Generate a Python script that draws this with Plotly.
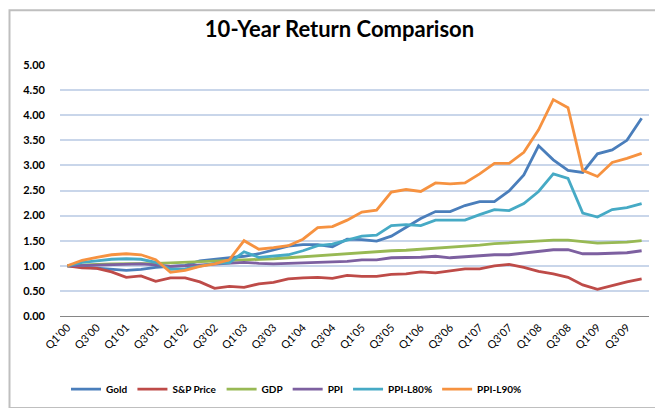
import plotly.graph_objects as go

quarters = [f"Q{q}'{y:02d}" for y in range(0, 10) for q in range(1, 5)]

gold = [1.00, 0.98, 0.96, 0.93, 0.91, 0.93, 0.97, 0.99, 1.01, 1.10,
        1.13, 1.15, 1.19, 1.24, 1.31, 1.39, 1.42, 1.42, 1.38, 1.53,
        1.52, 1.49, 1.59, 1.76, 1.94, 2.08, 2.08, 2.20, 2.28, 2.28,
        2.49, 2.81, 3.39, 3.11, 2.90, 2.86, 3.23, 3.31, 3.50, 3.94]
sp_price = [1.00, 0.96, 0.95, 0.88, 0.77, 0.80, 0.69, 0.76, 0.76, 0.68,
            0.55, 0.59, 0.57, 0.64, 0.67, 0.74, 0.76, 0.77, 0.75, 0.81,
            0.79, 0.79, 0.83, 0.84, 0.88, 0.86, 0.90, 0.94, 0.94, 1.00,
            1.03, 0.97, 0.89, 0.84, 0.77, 0.62, 0.53, 0.61, 0.68, 0.74]
gdp = [1.00, 1.02, 1.03, 1.04, 1.04, 1.05, 1.05, 1.06, 1.07, 1.08,
       1.09, 1.10, 1.11, 1.12, 1.14, 1.16, 1.18, 1.20, 1.23, 1.25,
       1.27, 1.28, 1.30, 1.31, 1.33, 1.35, 1.36, 1.38, 1.41, 1.44,
       1.46, 1.48, 1.50, 1.51, 1.51, 1.48, 1.45, 1.46, 1.47, 1.50]
ppi = [1.00, 1.01, 1.02, 1.03, 1.03, 1.04, 1.02, 0.99, 1.00, 1.02,
       1.03, 1.05, 1.07, 1.05, 1.04, 1.05, 1.06, 1.07, 1.08, 1.09,
       1.12, 1.12, 1.16, 1.16, 1.17, 1.19, 1.16, 1.18, 1.20, 1.22,
       1.22, 1.25, 1.28, 1.32, 1.32, 1.24, 1.24, 1.25, 1.26, 1.30]
ppi_l80 = [1.00, 1.07, 1.10, 1.13, 1.14, 1.13, 1.07, 0.93, 0.94, 1.00,
           1.05, 1.06, 1.28, 1.17, 1.20, 1.22, 1.30, 1.40, 1.43, 1.51,
           1.59, 1.61, 1.80, 1.82, 1.80, 1.91, 1.91, 1.91, 2.02, 2.12,
           2.10, 2.24, 2.48, 2.83, 2.74, 2.05, 1.97, 2.12, 2.16, 2.24]
ppi_l90 = [1.00, 1.11, 1.17, 1.22, 1.24, 1.22, 1.12, 0.87, 0.91, 0.99,
           1.04, 1.12, 1.50, 1.33, 1.36, 1.40, 1.53, 1.76, 1.78, 1.91,
           2.07, 2.11, 2.47, 2.52, 2.48, 2.65, 2.63, 2.65, 2.83, 3.04,
           3.04, 3.26, 3.71, 4.31, 4.15, 2.90, 2.78, 3.06, 3.14, 3.24]

series_names = ["Gold", "S&P Price", "GDP", "PPI", "PPI-L80%", "PPI-L90%"]
series_values = [gold, sp_price, gdp, ppi, ppi_l80, ppi_l90]
colors = ["#4A7EBB", "#BE4B48", "#98B954", "#7D60A0", "#46AAC5", "#F69240"]

y_ticks = [0.0, 0.5, 1.0, 1.5, 2.0, 2.5, 3.0, 3.5, 4.0, 4.5, 5.0]

FONT = "Lato"
# plot area in pixels: x 52..641, y 57..311
PW, PH = 589.0, 254.0

fig = go.Figure()
for name, vals, col in zip(series_names, series_values, colors):
    fig.add_trace(go.Scatter(
        x=quarters, y=vals, name=name, mode="lines",
        line=dict(color=col, width=2.8), hoverinfo="x+y+name",
    ))

fig.update_layout(
    width=663, height=408,
    margin=dict(l=52, r=22, t=57, b=97),
    paper_bgcolor="white", plot_bgcolor="white",
    font=dict(family=FONT, color="#000000"),
    title=dict(text="<b>10-Year Return Comparison</b>", x=0.5, xref="container",
               xanchor="center", y=(408 - 21) / 408, yref="container", yanchor="middle",
               font=dict(family=FONT, size=22, color="#000000")),
    showlegend=True,
    legend=dict(orientation="h", x=(58 - 52) / PW, xanchor="left",
                y=(311 - 385) / PH, yanchor="middle",
                font=dict(family=FONT, size=10, color="#000000", weight="bold"),
                itemwidth=30, tracegroupgap=0, bgcolor="rgba(0,0,0,0)"),
    shapes=[dict(type="rect", xref="paper", yref="paper",
                 x0=(1.5 - 52) / PW, x1=(660 - 52) / PW,
                 y0=(311 - 404) / PH, y1=(311 - 1.5) / PH,
                 line=dict(color="#BFBFBF", width=2), layer="below")],
)

fig.update_xaxes(
    type="category", categoryorder="array", categoryarray=quarters,
    range=[-0.5, len(quarters) - 0.5],
    tickmode="array", tickvals=quarters[::2], ticktext=quarters[::2],
    tickangle=-45, tickfont=dict(family=FONT, size=11, color="#000000"),
    showgrid=False, showline=True, linecolor="#868686", linewidth=1,
    ticks="", zeroline=False,
)
fig.update_yaxes(
    range=[0, 5], tickmode="array", tickvals=y_ticks,
    tickformat=".2f",
    tickfont=dict(family=FONT, size=11, color="#000000", weight="bold"),
    showgrid=True, gridcolor="#C9D6EA", gridwidth=1.5,
    showline=False, zeroline=False, ticks="", ticklabelstandoff=14,
)

fig.write_html("out.html")
